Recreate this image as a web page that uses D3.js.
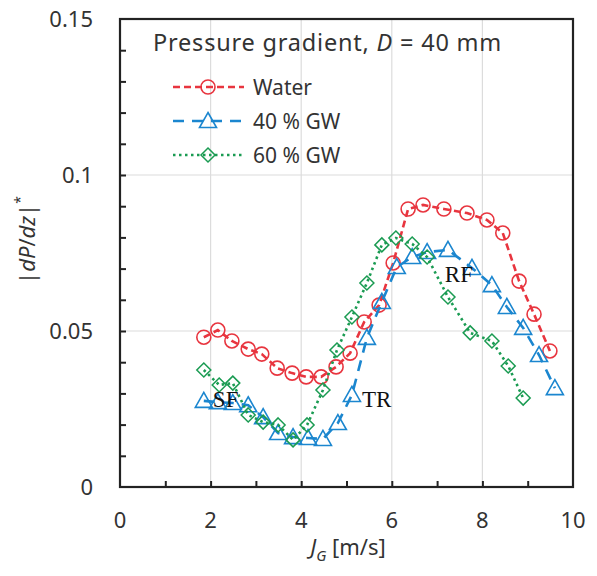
<!DOCTYPE html>
<html>
<head>
<meta charset="utf-8">
<script src="https://cdn.jsdelivr.net/npm/d3@7"></script>
<style>
  body { margin: 0; background: #fff; }
  text { font-family: "Noto Sans", "Open Sans", sans-serif; }
</style>
</head>
<body>
<svg width="597" height="576"></svg>
<script>
// data
var waterJG = [1.85, 2.16, 2.47, 2.83, 3.13, 3.47, 3.80, 4.11, 4.44, 4.77, 5.08, 5.39, 5.72, 6.03, 6.36, 6.69, 7.15, 7.66, 8.10, 8.45, 8.81, 9.14, 9.49];
var waterDP = [0.048, 0.0503, 0.0468, 0.0442, 0.0426, 0.0381, 0.0365, 0.0353, 0.0353, 0.0385, 0.0429, 0.0529, 0.0583, 0.0718, 0.0891, 0.0904, 0.0891, 0.0878, 0.0856, 0.0814, 0.066, 0.0554, 0.0436];

var gw40JG = [1.85, 2.16, 2.49, 2.83, 3.16, 3.49, 3.82, 4.15, 4.48, 4.81, 5.12, 5.45, 5.78, 6.11, 6.45, 6.78, 7.24, 7.77, 8.21, 8.54, 8.90, 9.25, 9.60];
var gw40DP = [0.0276, 0.0272, 0.0269, 0.0262, 0.0224, 0.0173, 0.016, 0.0157, 0.0154, 0.0205, 0.0295, 0.0478, 0.0593, 0.0705, 0.0737, 0.0753, 0.076, 0.0702, 0.0647, 0.0577, 0.051, 0.0423, 0.0317];

var gw60JG = [1.85, 2.19, 2.49, 2.83, 3.16, 3.49, 3.82, 4.13, 4.48, 4.79, 5.12, 5.45, 5.78, 6.09, 6.45, 6.78, 7.24, 7.73, 8.21, 8.57, 8.90];
var gw60DP = [0.0375, 0.0327, 0.0333, 0.0231, 0.0208, 0.0199, 0.0151, 0.0199, 0.0311, 0.0439, 0.0545, 0.0654, 0.0776, 0.0798, 0.0779, 0.0737, 0.0609, 0.0494, 0.0468, 0.0388, 0.0285];

var xTicks = [0, 2, 4, 6, 8, 10];
var yTicks = [0, 0.05, 0.1, 0.15];
var seriesNames = ["Water", "40 % GW", "60 % GW"];
var regimeLabels = [{t: "SF", x: 2.05, y: 0.0256}, {t: "TR", x: 5.34, y: 0.0256}, {t: "RF", x: 7.17, y: 0.0657}];

var svg = d3.select("svg");
var pL = 120, pR = 573, pT = 19, pB = 487;

var x = d3.scaleLinear().domain([0, 10]).range([pL, pR]);
var y = d3.scaleLinear().domain([0, 0.15]).range([pB, pT]);

// grid
svg.append("g").selectAll("line").data([2, 4, 6, 8]).enter().append("line")
  .attr("x1", d => x(d)).attr("x2", d => x(d)).attr("y1", pT).attr("y2", pB)
  .attr("stroke", "#dcdcdc").attr("stroke-width", 1.2);
svg.append("g").selectAll("line").data([0.05, 0.1]).enter().append("line")
  .attr("y1", d => y(d)).attr("y2", d => y(d)).attr("x1", pL).attr("x2", pR)
  .attr("stroke", "#dcdcdc").attr("stroke-width", 1.2);

// axes with inward minor ticks
var xAxis = svg.append("g").attr("transform", "translate(0," + pB + ")")
  .call(d3.axisTop(x).tickValues(d3.range(1, 10)).tickSize(6).tickFormat(""));
var yAxis = svg.append("g").attr("transform", "translate(" + pL + ",0)")
  .call(d3.axisRight(y).tickValues(d3.range(1, 15).map(d => d / 100)).tickSize(6).tickFormat(""));
[xAxis, yAxis].forEach(function(a) {
  a.select(".domain").remove();
  a.selectAll(".tick line").attr("stroke", "#222").attr("stroke-width", 2);
});

svg.append("rect").attr("x", pL).attr("y", pT).attr("width", pR - pL).attr("height", pB - pT)
  .attr("fill", "none").attr("stroke", "#222").attr("stroke-width", 2.2);

// tick labels
svg.append("g").selectAll("text").data(xTicks).enter().append("text")
  .attr("x", d => x(d)).attr("y", 528).attr("text-anchor", "middle")
  .attr("font-size", 22).attr("fill", "#333").text(d => d);
svg.append("g").selectAll("text").data(yTicks).enter().append("text")
  .attr("x", 93).attr("y", d => y(d) + 8).attr("text-anchor", "end")
  .attr("font-size", 22).attr("fill", "#333").text(d => d);

// axis titles
var xt = svg.append("text").attr("x", 348).attr("y", 555).attr("text-anchor", "middle")
  .attr("font-size", 22).attr("fill", "#333");
xt.append("tspan").attr("font-style", "italic").text("J");
xt.append("tspan").attr("font-style", "italic").attr("font-size", 15).attr("dy", 6).text("G");
xt.append("tspan").attr("dy", -6).text(" [m/s]");

var yt = svg.append("text").attr("transform", "translate(35,240) rotate(-90)").attr("text-anchor", "middle")
  .attr("font-size", 22).attr("fill", "#333");
yt.append("tspan").text("|");
yt.append("tspan").attr("font-style", "italic").text("dP");
yt.append("tspan").text("/");
yt.append("tspan").attr("font-style", "italic").text("dz");
yt.append("tspan").text("|");
yt.append("tspan").attr("font-size", 14).attr("dy", -10).text("*");

// series
var series = [
  {name: seriesNames[0], xs: waterJG, ys: waterDP, color: "#e8353f", dash: "7,4", shape: "circle"},
  {name: seriesNames[1], xs: gw40JG, ys: gw40DP, color: "#1b86cf", dash: "11,8", shape: "triangle"},
  {name: seriesNames[2], xs: gw60JG, ys: gw60DP, color: "#1a9b52", dash: "2.5,3.5", shape: "diamond"}
];

function marker(g, s, cx, cy) {
  if (s.shape === "circle") {
    g.append("circle").attr("cx", cx).attr("cy", cy).attr("r", 7)
      .attr("fill", "none").attr("stroke", s.color).attr("stroke-width", 1.6);
  } else if (s.shape === "triangle") {
    g.append("path").attr("transform", "translate(" + cx + "," + cy + ")")
      .attr("d", "M0,-8.5L8.5,6.5L-8.5,6.5Z")
      .attr("fill", "none").attr("stroke", s.color).attr("stroke-width", 1.6);
  } else {
    g.append("path").attr("transform", "translate(" + cx + "," + cy + ")")
      .attr("d", "M0,-7L7,0L0,7L-7,0Z")
      .attr("fill", "none").attr("stroke", s.color).attr("stroke-width", 1.5);
  }
}

var line = d3.line().x(d => x(d[0])).y(d => y(d[1]));

series.forEach(function(s) {
  var pts = s.xs.map((v, i) => [v, s.ys[i]]);
  var g = svg.append("g");
  g.append("path").datum(pts).attr("d", line).attr("fill", "none")
    .attr("stroke", s.color).attr("stroke-width", 2.6).attr("stroke-dasharray", s.dash);
  pts.forEach(p => marker(g, s, x(p[0]), y(p[1])));
});

// regime labels
svg.append("g").selectAll("text").data(regimeLabels).enter().append("text")
  .attr("x", d => x(d.x)).attr("y", d => y(d.y))
  .style("font-family", "'Liberation Serif', serif")
  .attr("font-size", 23).attr("fill", "#111").text(d => d.t);

// title
var title = svg.append("text").attr("x", 153).attr("y", 51).attr("font-size", 23.5)
  .attr("letter-spacing", 0.8).attr("fill", "#333");
title.append("tspan").text("Pressure gradient, ");
title.append("tspan").attr("font-style", "italic").text("D");
title.append("tspan").text(" = 40 mm");

// legend
var legend = svg.append("g");
series.forEach(function(s, i) {
  var ly = 87 + i * 34;
  legend.append("line").attr("x1", 173).attr("x2", 244).attr("y1", ly).attr("y2", ly)
    .attr("stroke", s.color).attr("stroke-width", 2.6).attr("stroke-dasharray", s.dash);
  marker(legend, s, 208, ly);
  legend.append("text").attr("x", 253).attr("y", ly + 7.5).attr("font-size", 21).attr("fill", "#333").text(s.name);
});
</script>
</body>
</html>
